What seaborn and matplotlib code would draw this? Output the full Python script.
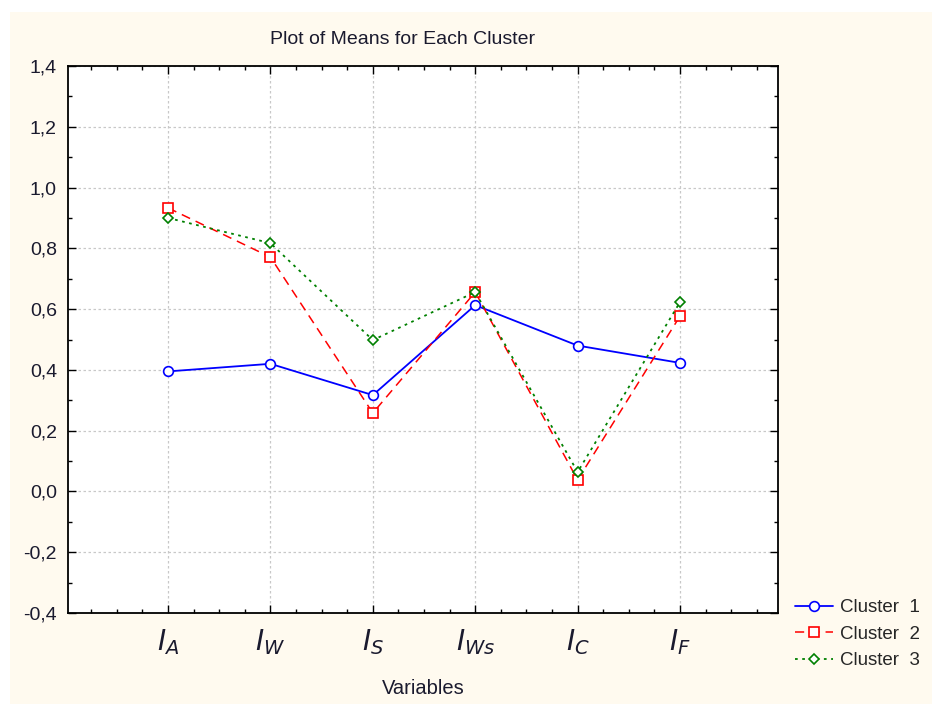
import matplotlib
matplotlib.use("Agg")
import matplotlib.pyplot as plt
import matplotlib.patches as mpatches
from matplotlib.ticker import FixedLocator, MultipleLocator, FuncFormatter
import seaborn as sns
import pandas as pd

variables = [r"$I_A$", r"$I_W$", r"$I_S$", r"$I_{Ws}$", r"$I_C$", r"$I_F$"]
cluster1 = [0.395, 0.420, 0.317, 0.613, 0.480, 0.423]
cluster2 = [0.933, 0.771, 0.258, 0.656, 0.038, 0.577]
cluster3 = [0.900, 0.817, 0.498, 0.656, 0.064, 0.623]
series_names = ["Cluster  1", "Cluster  2", "Cluster  3"]

sns.set_style("white")
plt.rcParams["font.family"] = ["Liberation Sans", "DejaVu Sans"]
plt.rcParams["mathtext.fontset"] = "dejavusans"

TXT = "#1a1a2e"

fig = plt.figure(figsize=(9.32, 7.04), dpi=100, facecolor="white")
fig.patches.append(mpatches.Rectangle((10 / 932, 0), 1, 1 - 12 / 704,
                                      transform=fig.transFigure,
                                      facecolor="#FFFAEF", edgecolor="none", zorder=-10))
ax = fig.add_axes([68 / 932, 1 - 613 / 704, (778 - 68) / 932, (613 - 66) / 704])
ax.set_facecolor("white")

rows = []
for name, vals in zip(series_names, [cluster1, cluster2, cluster3]):
    for i, v in enumerate(vals):
        rows.append({"pos": i, "value": v, "series": name})
df = pd.DataFrame(rows)

styles = {
    "Cluster  1": dict(color="#0000FF", linestyle="-", marker="o", markersize=7, lw=1.3),
    "Cluster  2": dict(color="#FF0000", linestyle=(0, (6, 4)), marker="s", markersize=7.5, lw=1.1),
    "Cluster  3": dict(color="#008000", linestyle=(0, (1.5, 2.5)), marker="D", markersize=5, lw=1.3),
}
for name in series_names:
    st = styles[name]
    sns.lineplot(data=df[df["series"] == name], x="pos", y="value", ax=ax,
                 color=st["color"], linestyle=st["linestyle"], marker=st["marker"],
                 markersize=st["markersize"], markerfacecolor="white",
                 markeredgecolor=st["color"], markeredgewidth=1.2, linewidth=st["lw"],
                 label=name, legend=False)

ax.set_xlim(-0.977, 5.957)
ax.set_ylim(-0.4, 1.4)
ax.xaxis.set_major_locator(FixedLocator(range(len(variables))))
ax.set_xticklabels(variables, fontsize=20, color=TXT)
ax.xaxis.set_minor_locator(FixedLocator([i * 0.25 for i in range(-3, 24) if i % 4 != 0]))
ax.yaxis.set_major_locator(MultipleLocator(0.2))
ax.yaxis.set_minor_locator(MultipleLocator(0.1))
ax.yaxis.set_major_formatter(FuncFormatter(lambda v, p: f"{v:.1f}".replace(".", ",").replace("-0,0", "0,0")))
for lab in ax.get_yticklabels():
    lab.set_fontsize(14)
    lab.set_color(TXT)

ax.tick_params(axis="both", which="both", direction="in", top=True, right=True,
               bottom=True, left=True, color="black")
ax.tick_params(which="major", length=6, width=1)
ax.tick_params(which="minor", length=3, width=1)
ax.tick_params(axis="x", which="major", pad=10)
ax.tick_params(axis="y", which="major", pad=8)
ax.grid(True, which="major", color="#c8c8c8", linestyle=(0, (2, 2)), linewidth=0.9)
for sp in ax.spines.values():
    sp.set_color("black")
    sp.set_linewidth(1.3)

ax.set_xlabel("Variables", fontsize=14.5, color=TXT, labelpad=16)
ax.set_ylabel("")
fig.text(403 / 932, 1 - 40 / 704, "Plot of Means for Each Cluster", fontsize=14,
         color=TXT, ha="center", va="center")

handles, labels = ax.get_legend_handles_labels()
fig.legend(handles, labels, loc="upper left", bbox_to_anchor=(795 / 932, 1 - 599 / 704),
           frameon=False, fontsize=13.5, handlelength=2.0, labelspacing=0.5,
           handletextpad=0.4, borderaxespad=0, borderpad=0)

fig.savefig("out.png", dpi=100, facecolor=fig.get_facecolor())
